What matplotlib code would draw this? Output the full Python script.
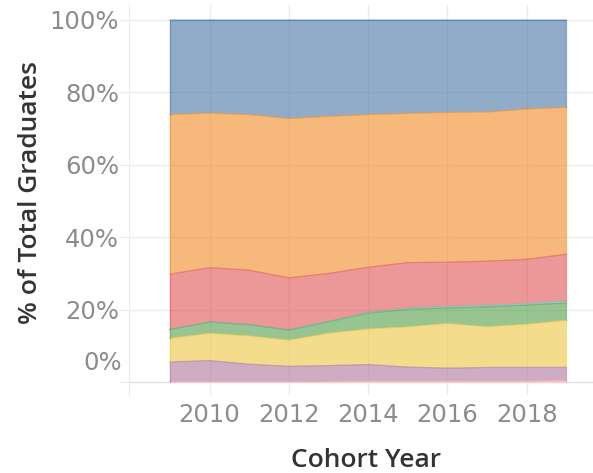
import matplotlib
matplotlib.use("Agg")
import matplotlib.pyplot as plt
from matplotlib.transforms import ScaledTranslation
import numpy as np

years = [2009, 2010, 2011, 2012, 2013, 2014, 2015, 2016, 2017, 2018, 2019]
# shares (%) from bottom to top of the stack
pink   = [0.2, 0.2, 0.2, 0.2, 0.3, 0.4, 0.4, 0.4, 0.4, 0.4, 0.6]
purple = [5.4, 5.8, 4.8, 4.2, 4.3, 4.5, 3.8, 3.5, 3.7, 3.7, 3.5]
yellow = [6.5, 7.5, 7.8, 7.2, 8.9, 9.8, 11.1, 12.3, 11.2, 11.9, 13.0]
green  = [2.5, 3.1, 3.1, 2.8, 3.2, 4.4, 4.8, 4.3, 5.5, 5.3, 4.8]
teal   = [0.0, 0.0, 0.0, 0.0, 0.1, 0.2, 0.3, 0.4, 0.4, 0.4, 0.5]
red    = [15.2, 15.0, 15.0, 14.4, 13.2, 12.4, 12.6, 12.2, 12.2, 12.2, 12.9]
orange = [44.0, 42.6, 42.9, 43.9, 43.3, 42.1, 41.1, 41.3, 41.1, 41.4, 40.5]
blue   = [26.2, 25.8, 26.2, 27.3, 26.7, 26.2, 25.9, 25.6, 25.5, 24.7, 24.2]

series = [pink, purple, yellow, green, teal, red, orange, blue]
colors = ["#FF9DA7", "#B07AA1", "#EDC948", "#59A14F", "#76B7B2",
          "#E15759", "#F28E2B", "#4E79A7"]

ytick_vals = [0, 20, 40, 60, 80, 100]
ytick_labels = ["0%", "20%", "40%", "60%", "80%", "100%"]
xtick_vals = [2010, 2012, 2014, 2016, 2018]

fig = plt.figure(figsize=(5.93, 4.73), dpi=100)
ax = fig.add_axes([129/593, 78/473, 464/593, 390/473])

grid_c = "#EBEBEB"
ax.set_axisbelow(True)
for y in ytick_vals:
    ax.axhline(y, color=grid_c if y else "#E0E0E0", lw=1, zorder=0)
for x in xtick_vals:
    ax.axvline(x, color=grid_c, lw=1, zorder=0)

base = np.zeros(len(years))
for vals, c in zip(series, colors):
    v = np.array(vals, dtype=float)
    top = base + v
    ax.fill_between(years, base, top, facecolor=c, alpha=0.62, edgecolor="none", zorder=2)
    ax.plot(years, top, color=c, lw=0.9, alpha=0.6, zorder=3)
    ax.plot([years[0], years[0]], [base[0], top[0]], color=c, lw=0.9, alpha=0.5, zorder=3)
    ax.plot([years[-1], years[-1]], [base[-1], top[-1]], color=c, lw=0.9, alpha=0.5, zorder=3)
    base = top

ax.set_xlim(2007.97, 2019.67)
ax.set_ylim(-3.5, 104)

ax.set_yticks(ytick_vals)
ax.set_yticklabels(["" if v == 0 else l for v, l in zip(ytick_vals, ytick_labels)])
ax.set_xticks(xtick_vals)
ax.set_xticklabels([str(x) for x in xtick_vals])

lab_c = "#8C8C8C"
ax.tick_params(axis="y", length=7, color=grid_c, labelsize=17.5, labelcolor=lab_c, pad=0)
ax.tick_params(axis="x", length=0, labelsize=17.5, labelcolor=lab_c, pad=6)

# 0% label shifted upward (as in reference)
off = ScaledTranslation(0, 0.19, fig.dpi_scale_trans)
ax.text(-7/464, 0, ytick_labels[0], transform=ax.get_yaxis_transform() + off,
        ha="right", va="center", fontsize=17.5, color=lab_c)

for s in ["top", "right", "bottom"]:
    ax.spines[s].set_visible(False)
ax.spines["left"].set_color(grid_c)

ax.set_ylabel("% of Total Graduates", fontsize=19, color="#333333",
              family="Open Sans", fontweight="semibold")
ax.yaxis.set_label_coords(-0.212, 0.52)
ax.yaxis.label.set_va("center")
ax.set_xlabel("Cohort Year", fontsize=19, color="#333333",
              family="Open Sans", fontweight="semibold")
ax.xaxis.set_label_coords(0.511, -0.167)
ax.xaxis.label.set_va("center")

fig.savefig("out.png", dpi=100, facecolor="white")
